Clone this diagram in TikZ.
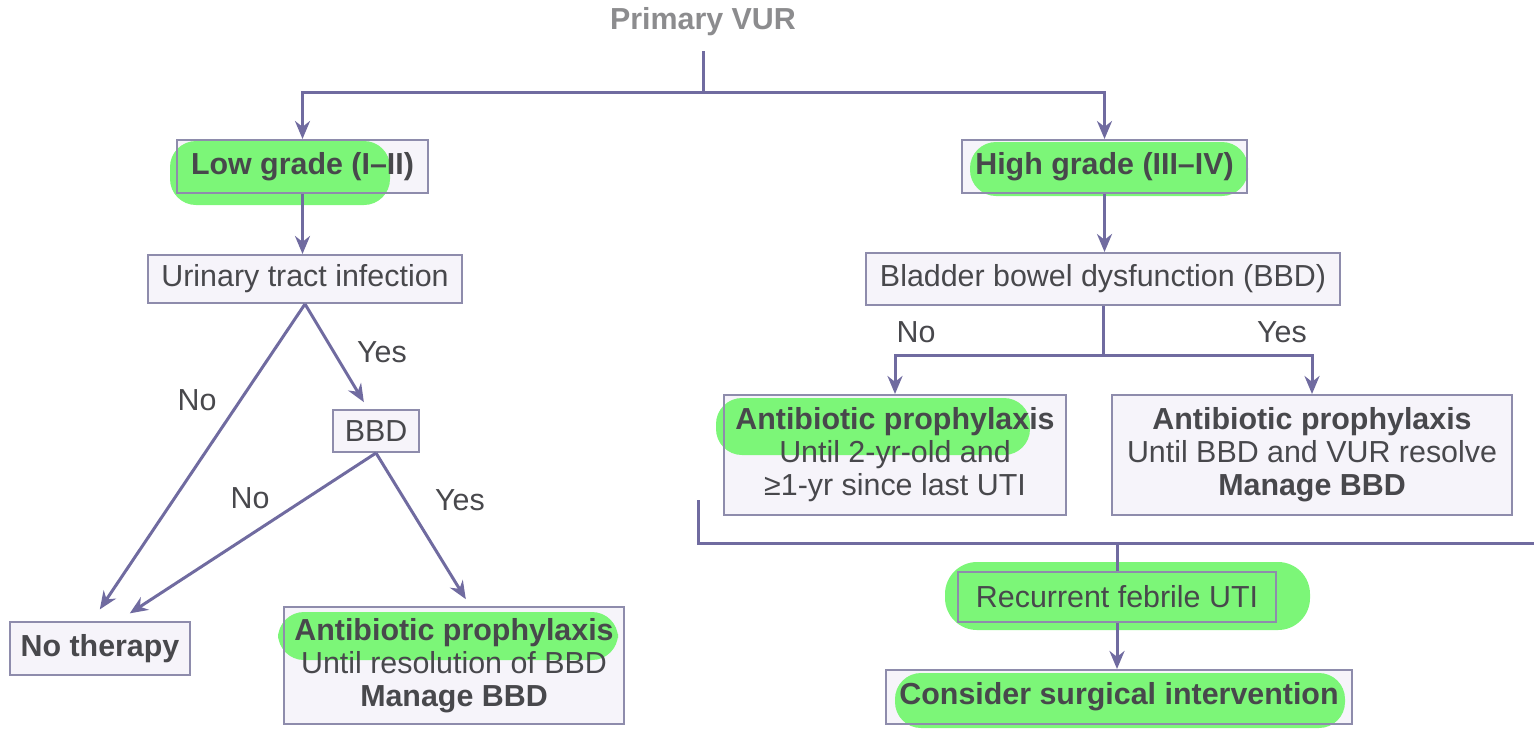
\documentclass[tikz,border=0pt]{standalone}
\usepackage{fontspec}
\setmainfont{Liberation Sans}
\usepackage{xcolor}
\usepackage{tikz}
\usetikzlibrary{arrows.meta,calc,positioning}
\definecolor{FlowLine}{RGB}{112,107,160}
\definecolor{BoxEdge}{RGB}{142,140,172}
\definecolor{BoxFill}{RGB}{246,244,250}
\definecolor{BoxText}{RGB}{72,72,76}
\definecolor{TitleGray}{RGB}{140,140,142}
\definecolor{Marker}{RGB}{124,246,120}
\pgfdeclarelayer{boxfill}
\pgfdeclarelayer{marker}
\pgfsetlayers{boxfill,marker,main}

\tikzset{
  flowbox/.style={draw=BoxEdge,line width=1pt,text=BoxText,align=center,inner sep=2pt},
  keybox/.style={flowbox,font=\fontsize{15.2}{16.5}\selectfont\bfseries},
  lbl/.style={text=BoxText},
  line/.style={draw=FlowLine,line width=1.5pt},
  arr/.style={line,-{Stealth[length=9pt,width=7.5pt]}},
  blob/.style={fill=Marker,rounded corners=13pt}
}

\begin{document}
\begin{tikzpicture}[x=0.5pt,y=-0.5pt,font=\fontsize{15.2}{16.5}\selectfont]
  \useasboundingbox (0,0) rectangle (1534,729);

  \node[font=\fontsize{15.2}{16.5}\selectfont\bfseries,text=TitleGray] (prim) at (703,22) {Primary VUR};

  % grade split
  \node[keybox,minimum width=125.5pt,minimum height=26.5pt] (low) at (302.5,166.5) {Low grade (I--II)};
  \node[keybox,minimum width=142.5pt,minimum height=26.5pt] (high) at (1104.5,166.5) {High grade (III--IV)};

  % low grade branch
  \node[flowbox,minimum width=157pt,minimum height=24pt] (uti) at (305,279) {Urinary tract infection};
  \node[flowbox,minimum width=43pt,minimum height=21pt] (bbdL) at (376,431) {BBD};
  \node[keybox,minimum width=90pt,minimum height=26.5pt] (nother) at (100,648.5) {No therapy};
  \node[flowbox,minimum width=170pt,minimum height=58.5pt] (abpL) at (454,665.5)
    {\textbf{Antibiotic prophylaxis}\\Until resolution of BBD\\\textbf{Manage BBD}};

  % high grade branch
  \node[flowbox,minimum width=237pt,minimum height=26pt] (bbdR) at (1103,279) {Bladder bowel dysfunction (BBD)};
  \node[flowbox,minimum width=171pt,minimum height=60pt] (abpNo) at (895,455)
    {\textbf{Antibiotic prophylaxis}\\Until 2-yr-old and\\≥1-yr since last UTI};
  \node[flowbox,minimum width=200pt,minimum height=60pt] (abpYes) at (1312,455)
    {\textbf{Antibiotic prophylaxis}\\Until BBD and VUR resolve\\\textbf{Manage BBD}};
  \node[flowbox,minimum width=159pt,minimum height=25pt] (recur) at (1117,597) {Recurrent febrile UTI};
  \node[keybox,minimum width=233pt,minimum height=27pt] (surg) at (1119,697) {Consider surgical intervention};

  % branch labels
  \node[lbl] (noA) at (197,400) {No};
  \node[lbl] (yesA) at (382,352) {Yes};
  \node[lbl] (noB) at (250,498) {No};
  \node[lbl] (yesB) at (460,500) {Yes};
  \node[lbl] (noC) at (916,332) {No};
  \node[lbl] (yesC) at (1282,332) {Yes};

  % connectors
  \coordinate (split) at (703,92);
  \coordinate (fork) at (1103,355);
  \coordinate (mergeL) at (698,500);
  \coordinate (mergeR) at (1534,543);
  \draw[line,shorten <=4pt] (prim.south) -- (split);
  \draw[arr] (split) -| (low.north);
  \draw[arr] (split) -| (high.north);
  \draw[arr] (low.south) -- (low.south |- uti.north);
  \draw[arr] (high.south) -- (high.south |- bbdR.north);
  \draw[arr,shorten >=7pt] (uti.south) -- ([xshift=-4pt]nother.north);
  \draw[arr,shorten >=4pt] (uti.south) -- ([xshift=-4pt]bbdL.north);
  \draw[arr,shorten >=7pt] (bbdL.south) -- ([xshift=9pt]nother.north);
  \draw[arr,shorten >=4pt] (bbdL.south) -- ([xshift=8pt]abpL.north);
  \draw[line] (bbdR.south) -- (fork);
  \draw[arr] (fork) -| (abpNo.north);
  \draw[arr] (fork) -| (abpYes.north);
  \draw[line] (mergeL) |- (mergeR);
  \draw[line] (recur.north) -- (recur.north |- mergeR);
  \draw[arr] (recur.south) -- (recur.south |- surg.north);

  % box fills
  \begin{pgfonlayer}{boxfill}
    \foreach \n in {low,high,uti,bbdL,nother,abpL,bbdR,abpNo,abpYes,recur,surg}
      \fill[BoxFill] (\n.south west) rectangle (\n.north east);
  \end{pgfonlayer}

  % marker highlights
  \begin{pgfonlayer}{marker}
    \fill[blob] (170,141) rectangle (390,205);
    \fill[blob] (970,142) rectangle (1248,196);
    \fill[blob] (278,612) rectangle (618,660);
    \fill[blob] (716,398) rectangle (1030,455);
    \fill[blob,rounded corners=16pt] (945,562) rectangle (1310,630);
    \fill[blob] (895,673) rectangle (1345,728);
  \end{pgfonlayer}
\end{tikzpicture}
\end{document}
